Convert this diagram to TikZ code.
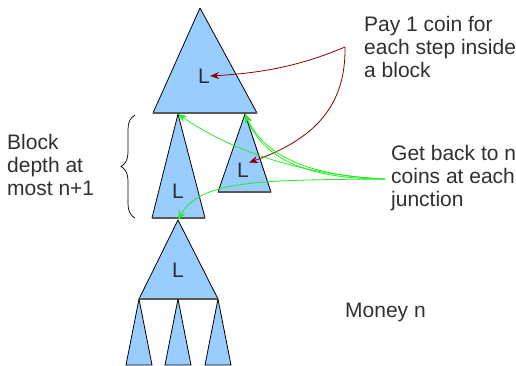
\documentclass[tikz,border=0pt]{standalone}
\usepackage{fontspec}
\setmainfont{Liberation Sans}
\usetikzlibrary{arrows.meta,decorations.pathreplacing}
\definecolor{blockblue}{HTML}{99CCFF}
\definecolor{coinred}{HTML}{8B0000}
\definecolor{backgreen}{HTML}{22EE22}
\definecolor{textgray}{HTML}{303030}

\begin{document}
\begin{tikzpicture}[x=1pt,y=-1pt]
	\tikzstyle{block} = [draw=black, fill=blockblue, line width=0.8pt, line join=round]
	\tikzstyle{base} = [draw=black!65, line width=1.4pt]
	\tikzstyle{letter} = [font=\fontsize{21}{23}\selectfont, text=textgray, inner sep=0pt]
	\tikzstyle{note} = [letter, align=left, anchor=west]
	\tikzstyle{pay} = [draw=coinred, line width=0.8pt, -{Stealth[length=9pt,width=7pt]}]
	\tikzstyle{back} = [draw=backgreen, line width=0.8pt, -{Stealth[length=9pt,width=7pt]}]

	\useasboundingbox (0,0) rectangle (516,365);

	% the blocks, top to bottom
	\coordinate (topA) at (200,8);
	\filldraw[block] (topA) -- (257,113) -- (153,113) -- cycle;
	\draw[base] (153,113) -- (257,113);
	\node[letter] (topL) at (204,76) {L};

	\coordinate (leftA) at (178,114);
	\filldraw[block] (leftA) -- (205,218) -- (152,218) -- cycle;
	\draw[base] (152,218) -- (205,218);
	\node[letter] (leftL) at (178,191) {L};

	\coordinate (rightA) at (245,114);
	\filldraw[block] (rightA) -- (271,192) -- (218,192) -- cycle;
	\draw[base] (218,192) -- (271,192);
	\node[letter] (rightL) at (243,170) {L};

	\coordinate (lowA) at (178,220);
	\filldraw[block] (lowA) -- (218,299) -- (139,299) -- cycle;
	\draw[base] (139,299) -- (218,299);
	\node[letter] (lowL) at (178,270) {L};

	% leaves
	\foreach \x in {139,178,218}
		\filldraw[block] (\x,299) -- (\x+13,365) -- (\x-13,365) -- cycle;

	% texts
	\node[note] (pay) at (364,47) {Pay 1 coin for\\each step inside\\a block};
	\node[note] (back) at (391,178) {Get back to n\\coins at each\\junction};
	\node[note] (depth) at (7,165) {Block\\depth at\\most n+1};
	\node[note] (money) at (345,312) {Money n};

	\draw[decorate, decoration={brace, amplitude=14pt}, line width=0.7pt] (135,218) -- (135,115);

	% coins paid
	\coordinate (payfrom) at (345,47);
	\path[pay] (payfrom) .. controls (300,66) and (262,73) .. (topL.east);
	\path[pay] (payfrom) .. controls (346,108) and (312,140) .. (rightL.north east);

	% coins given back
	\coordinate (backfrom) at (385,179);
	\path[back] (backfrom) .. controls (300,179) and (262,155) .. (rightA);
	\path[back] (backfrom) .. controls (320,176) and (268,162) .. (rightA);
	\path[back] (backfrom) .. controls (300,175) and (230,150) .. (leftA);
	\path[back] (backfrom) .. controls (260,180) and (200,180) .. (lowA);
\end{tikzpicture}
\end{document}
